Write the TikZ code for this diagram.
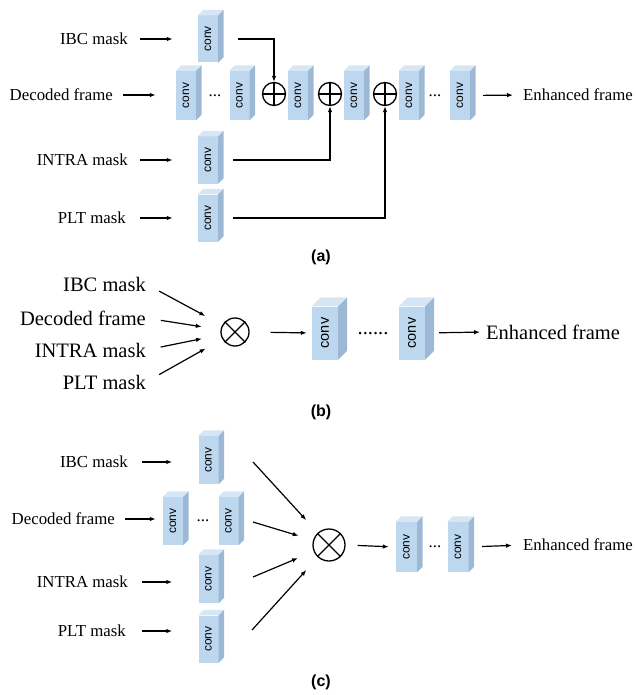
\documentclass[tikz,border=0pt]{standalone}
\usepackage{fontspec}
\setmainfont{Liberation Serif}
\newfontfamily\arialf{Liberation Sans}
\usetikzlibrary{arrows.meta,calc}
\definecolor{cfront}{HTML}{BDD7EE}
\definecolor{ctop}{HTML}{D6E6F5}
\definecolor{cside}{HTML}{9CB8D4}
\tikzset{
  convfront/.style={fill=cfront, inner sep=0pt, font=\arialf},
  lblA/.style={inner sep=0pt, anchor=east, font=\fontsize{16.8}{20}\selectfont},
  lblB/.style={inner sep=0pt, anchor=east, font=\fontsize{20.5}{24}\selectfont},
  dotsA/.style={inner sep=0pt, anchor=base, font=\fontsize{16.8}{20}\selectfont},
  dotsB/.style={inner sep=0pt, anchor=base, font=\fontsize{20.5}{24}\selectfont},
  arr/.style={line width=1.2pt, -{Latex[length=6pt,width=4.5pt]}},
  opnode/.style={circle, draw, line width=1.3pt, inner sep=0pt},
  sublbl/.style={inner sep=0pt, font=\arialf\bfseries\fontsize{16}{18}\selectfont},
}
\newcommand\convbox[7]{%
  \node[convfront, minimum width=#4pt, minimum height=#5pt] (#1) at (#2,#3) {\rotatebox{90}{\fontsize{#7}{#7}\selectfont conv}};
  \fill[ctop] (#1.north west) -- ++(#6pt,#6pt) -- ($(#1.north east)+(#6pt,#6pt)$) -- (#1.north east) -- cycle;
  \fill[cside] (#1.north east) -- ++(#6pt,#6pt) -- ($(#1.south east)+(#6pt,#6pt)$) -- (#1.south east) -- cycle;
}
\newcommand\opluscross[1]{\draw[line width=1.3pt] (#1.north) -- (#1.south) (#1.west) -- (#1.east);}
\newcommand\otimescross[1]{\draw[line width=1.3pt] (#1.north west) -- (#1.south east) (#1.north east) -- (#1.south west);}
\begin{document}
\begin{tikzpicture}[x=1pt,y=-1pt]
\useasboundingbox (0,0) rectangle (635,695);
% ---------------- (a) ----------------
\node[lblA] (ta1) at (128,39) {IBC mask};
\node[lblA] (ta2) at (113,95) {Decoded frame};
\node[lblA] (ta3) at (128,160) {INTRA mask};
\node[lblA] (ta4) at (126,218) {PLT mask};
\convbox{ca0}{208}{39}{20}{47}{5.5}{12}
\convbox{ca1}{186}{95.5}{20}{49}{5.5}{12}
\convbox{ca2}{239.5}{95.5}{20}{49}{5.5}{12}
\convbox{ca3}{298}{95.5}{20}{49}{5.5}{12}
\convbox{ca4}{354}{95.5}{20}{49}{5.5}{12}
\convbox{ca5}{409}{95.5}{20}{49}{5.5}{12}
\convbox{ca6}{460}{95.5}{20}{49}{5.5}{12}
\convbox{ca7}{208}{160}{20}{47}{5.5}{12}
\convbox{ca8}{208}{218}{20}{47}{5.5}{12}
\node[dotsA] (da1) at (215,97) {...};
\node[dotsA] (da2) at (435,97) {...};
\node[opnode, minimum size=23pt] (op1) at (274,94) {};
\node[opnode, minimum size=23pt] (op2) at (330,94) {};
\node[opnode, minimum size=23pt] (op3) at (385,94) {};
\opluscross{op1}\opluscross{op2}\opluscross{op3}
\node[lblA, anchor=west] (ea) at (523,95) {Enhanced frame};
\draw[arr, shorten <=12pt, shorten >=25pt] (ta1.east) -- (ta1.east -| ca0.west);
\draw[arr, shorten <=10pt, shorten >=20pt] (ta2.east) -- (ta2.east -| ca1.west);
\draw[arr, shorten <=12pt, shorten >=25pt] (ta3.east) -- (ta3.east -| ca7.west);
\draw[arr, shorten <=14pt, shorten >=25pt] (ta4.east) -- (ta4.east -| ca8.west);
\draw[arr, shorten <=20pt] (ca0.east) -| (op1);
\draw[arr, shorten <=15pt] (ca7.east) -| (op2);
\draw[arr, shorten <=15pt] (ca8.east) -| (op3);
\draw[arr, shorten <=13pt, shorten >=10pt] (ca6.east) -- (ea.west);
\node[sublbl] (la) at (321,257) {(a)};
% ---------------- (b) ----------------
\node[lblB] (tb1) at (146,284) {IBC mask};
\node[lblB] (tb2) at (146,318) {Decoded frame};
\node[lblB] (tb3) at (146,350) {INTRA mask};
\node[lblB] (tb4) at (146,382) {PLT mask};
\node[opnode, minimum size=28pt] (ob) at (235,332) {};
\otimescross{ob}
\convbox{cb1}{325}{333}{26}{53}{9}{14.5}
\convbox{cb2}{412}{333}{26}{53}{9}{14.5}
\node[dotsB] (db) at (373,334) {......};
\node[lblB, anchor=west] (eb) at (486,332) {Enhanced frame};
\draw[arr, shorten <=15pt, shorten >=19pt] (tb1.east) -- (ob);
\draw[arr, shorten <=15pt, shorten >=19pt] (tb2.east) -- (ob);
\draw[arr, shorten <=15pt, shorten >=19pt] (tb3.east) -- (ob);
\draw[arr, shorten <=15pt, shorten >=19pt] (tb4.east) -- (ob);
\draw[arr, shorten <=21pt, shorten >=5pt] (ob.east) -- (cb1.west);
\draw[arr, shorten <=14pt, shorten >=6pt] (cb2.east) -- (eb.west);
\node[sublbl] (lb) at (321,412) {(b)};
% ---------------- (c) ----------------
\node[lblA] (tc1) at (128,462) {IBC mask};
\node[lblA] (tc2) at (115,519) {Decoded frame};
\node[lblA] (tc3) at (128,582) {INTRA mask};
\node[lblA] (tc4) at (126,631) {PLT mask};
\convbox{cc0}{208.5}{460}{20}{48}{5.5}{12}
\convbox{cc1}{173}{521}{20}{48}{5.5}{12}
\convbox{cc2}{228.5}{521}{20}{48}{5.5}{12}
\convbox{cc3}{208.5}{579}{20}{48}{5.5}{12}
\convbox{cc4}{208.5}{639}{20}{47}{5.5}{12}
\node[dotsA] (dc1) at (203,521) {...};
\node[opnode, minimum size=32pt] (oc) at (329,545) {};
\otimescross{oc}
\convbox{cc5}{406.5}{547}{21}{50}{5.5}{12}
\convbox{cc6}{458}{547}{21}{50}{5.5}{12}
\node[dotsA] (dc2) at (435,547) {...};
\node[lblA, anchor=west] (ec) at (523,545) {Enhanced frame};
\draw[arr, shorten <=14pt, shorten >=26pt] (tc1.east) -- (tc1.east -| cc0.west);
\draw[arr, shorten <=10pt, shorten >=7pt] (tc2.east) -- (tc2.east -| cc1.west);
\draw[arr, shorten <=14pt, shorten >=26pt] (tc3.east) -- (tc3.east -| cc3.west);
\draw[arr, shorten <=16pt, shorten >=26pt] (tc4.east) -- (tc4.east -| cc4.west);
\coordinate (s1) at (253,462);
\coordinate (s2) at (253,522);
\coordinate (s3) at (253,577);
\coordinate (s4) at (252,630);
\draw[arr, shorten >=17pt] (s1) -- (oc);
\draw[arr, shorten >=15pt] (s2) -- (oc);
\draw[arr, shorten >=17pt] (s3) -- (oc);
\draw[arr, shorten >=17pt] (s4) -- (oc);
\draw[arr, shorten <=12pt, shorten >=7pt] (oc.east) -- (cc5.west);
\draw[arr, shorten <=13.5pt, shorten >=11pt] (cc6.east) -- (ec.west);
\node[sublbl] (lc) at (321,682) {(c)};
\end{tikzpicture}
\end{document}
